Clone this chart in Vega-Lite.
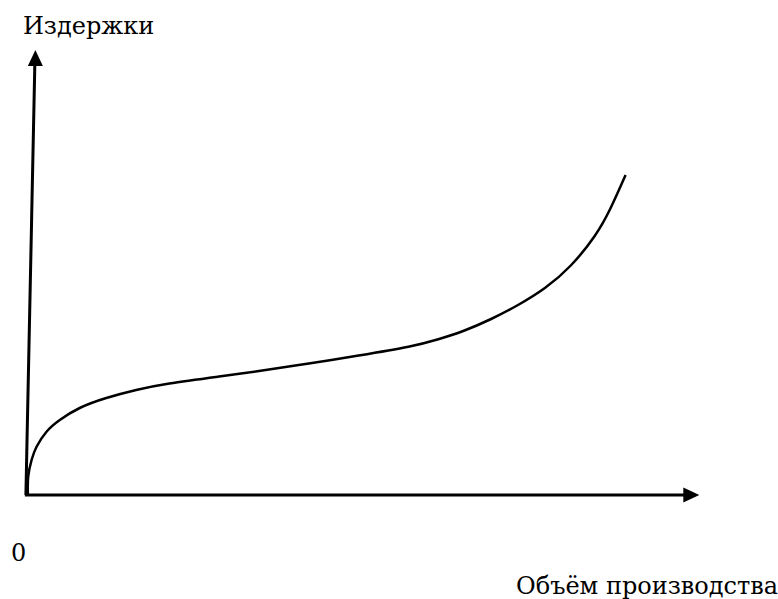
{
  "$schema": "https://vega.github.io/schema/vega-lite/v6.json",
  "width": 778,
  "height": 599,
  "padding": 0,
  "autosize": {"type": "fit", "contains": "padding"},
  "background": "white",
  "config": {"view": {"stroke": null}},
  "datasets": {
    "curve": [
      {"q": 28, "c": 104}, {"q": 28.3, "c": 122.3}, {"q": 31.7, "c": 139}, {"q": 36.7, "c": 152.3},
      {"q": 46.7, "c": 167.3}, {"q": 60, "c": 179}, {"q": 80, "c": 191}, {"q": 106.7, "c": 201},
      {"q": 136.7, "c": 209}, {"q": 170, "c": 215.5}, {"q": 220, "c": 222.5}, {"q": 260, "c": 228},
      {"q": 310, "c": 235.5}, {"q": 360, "c": 243.5}, {"q": 410, "c": 252.3}, {"q": 440, "c": 259.8},
      {"q": 465, "c": 268}, {"q": 493, "c": 280}, {"q": 520, "c": 294}, {"q": 547, "c": 311},
      {"q": 573, "c": 333.5}, {"q": 597, "c": 363}, {"q": 613, "c": 391}, {"q": 628, "c": 424}
    ],
    "axes": [
      {"q": 26, "c": 104, "q2": 35, "c2": 537},
      {"q": 25, "c": 104, "q2": 688, "c2": 104}
    ],
    "arrows": [
      {"q": 35.5, "c": 541, "dir": "up"},
      {"q": 694, "c": 104, "dir": "right"}
    ],
    "labels": [
      {"q": 23, "c": 565, "t": "Издержки"},
      {"q": 11, "c": 38, "t": "0"},
      {"q": 518, "c": 5, "t": "Объём производства"}
    ]
  },
  "layer": [
    {
      "data": {"name": "axes"},
      "mark": {"type": "rule", "stroke": "black", "strokeWidth": 3},
      "encoding": {
        "x": {"field": "q", "type": "quantitative", "scale": {"domain": [0, 778], "nice": false, "zero": false}, "axis": null},
        "y": {"field": "c", "type": "quantitative", "scale": {"domain": [0, 599], "nice": false, "zero": false}, "axis": null},
        "x2": {"field": "q2"},
        "y2": {"field": "c2"}
      }
    },
    {
      "data": {"name": "arrows"},
      "transform": [{"filter": "datum.dir == 'up'"}],
      "mark": {"type": "point", "shape": "M0,-1L0.94,1L-0.94,1Z", "size": 256, "filled": true, "color": "black", "opacity": 1},
      "encoding": {
        "x": {"field": "q", "type": "quantitative"},
        "y": {"field": "c", "type": "quantitative"}
      }
    },
    {
      "data": {"name": "arrows"},
      "transform": [{"filter": "datum.dir == 'right'"}],
      "mark": {"type": "point", "shape": "M1,0L-1,-0.94L-1,0.94Z", "size": 256, "filled": true, "color": "black", "opacity": 1},
      "encoding": {
        "x": {"field": "q", "type": "quantitative"},
        "y": {"field": "c", "type": "quantitative"}
      }
    },
    {
      "data": {"name": "curve"},
      "mark": {"type": "line", "stroke": "black", "strokeWidth": 2.5, "interpolate": "natural"},
      "encoding": {
        "x": {"field": "q", "type": "quantitative"},
        "y": {"field": "c", "type": "quantitative"}
      }
    },
    {
      "data": {"name": "labels"},
      "mark": {"type": "text", "font": "DejaVu Serif", "fontSize": 24, "align": "left", "baseline": "alphabetic", "color": "black"},
      "encoding": {
        "x": {"field": "q", "type": "quantitative"},
        "y": {"field": "c", "type": "quantitative"},
        "text": {"field": "t"}
      }
    }
  ]
}
